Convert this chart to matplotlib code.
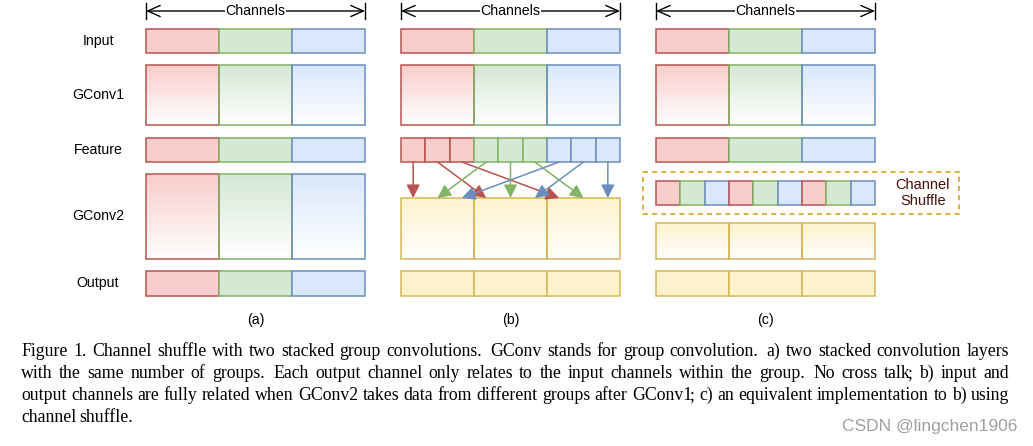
import numpy as np
import matplotlib
matplotlib.use('Agg')
import matplotlib.pyplot as plt
import matplotlib.colors as mcolors
from matplotlib.patches import Rectangle, FancyArrowPatch

# %% data
row_names = ['Input', 'GConv1', 'Feature', 'GConv2', 'Output']
panel_labels = ['(a)', '(b)', '(c)']
group_fill = ['#f8cecc', '#d5e8d4', '#dae8fc']
group_edge = ['#b85450', '#82b366', '#6c8ebf']
yellow_fill, yellow_edge = '#fff2cc', '#d6b656'
n_groups = 3
shuffle_groups = [0, 1, 2, 0, 1, 2, 0, 1, 2]       # colour group of each shuffled channel in (c)
arrow_src = [0, 1, 2, 3, 4, 5, 6, 7, 8]            # feature sub-channel in (b)
arrow_dst = [0, 3, 6, 1, 4, 7, 2, 5, 8]            # GConv2 sub-channel in (b)
caption = [
    "Figure 1. Channel shuffle with two stacked group convolutions. GConv stands for group convolution. a) two stacked convolution layers",
    "with the same number of groups. Each output channel only relates to the input channels within the group. No cross talk; b) input and",
    "output channels are fully related when GConv2 takes data from different groups after GConv1; c) an equivalent implementation to b) using",
    "channel shuffle.",
]
watermark = 'CSDN @lingchen1906'

# %% layout (pixel coordinates)
W, H = 1033, 446
panel_x = [146, 401, 656]
panel_w = 219
rows_y = {'Input': (29, 53), 'GConv1': (65, 125), 'Feature': (138, 162),
          'GConv2': (174, 259), 'Output': (271, 296)}
label_x = 98

fig = plt.figure(figsize=(W / 100, H / 100), dpi=100)
ax = fig.add_axes([0, 0, 1, 1])
ax.axis('off')
sans = 'Liberation Sans'
serif = 'Liberation Serif'


def box(x0, y0, w, h, fill, edge, gradient=False, z=2):
    if gradient:
        c = np.array(mcolors.to_rgb(fill))
        t = np.linspace(0, 1, 64)[:, None]
        img = (c[None, :] * (1 - t) + np.ones(3)[None, :] * t)[:, None, :]
        ax.imshow(img, extent=(x0, x0 + w, y0 + h, y0), origin='upper',
                  aspect='auto', interpolation='bilinear', zorder=z)
        ax.add_patch(Rectangle((x0, y0), w, h, fc='none', ec=edge, lw=1.1, zorder=z + 0.5))
    else:
        ax.add_patch(Rectangle((x0, y0), w, h, fc=fill, ec=edge, lw=1.1, zorder=z))


def group_row(x0, row, colors_fill, colors_edge, gradient=False):
    y0, y1 = rows_y[row] if isinstance(row, str) else row
    n = len(colors_fill)
    gw = panel_w / n
    for i in range(n):
        box(x0 + i * gw, y0, gw, y1 - y0, colors_fill[i], colors_edge[i], gradient)


for p, x0 in enumerate(panel_x):
    # channels arrow
    ax.annotate('', xy=(x0, 11), xytext=(x0 + panel_w, 11),
                arrowprops=dict(arrowstyle='<->,head_length=0.9,head_width=0.4',
                                lw=1.0, color='black', shrinkA=0, shrinkB=0))
    for xe in (x0, x0 + panel_w):
        ax.plot([xe, xe], [3, 19], color='black', lw=1.0)
    ax.text(x0 + panel_w / 2, 11, 'Channels', ha='center', va='center', fontsize=10.2,
            family=sans, bbox=dict(fc='white', ec='none', pad=0.5), zorder=5)

    group_row(x0, 'Input', group_fill, group_edge)
    group_row(x0, 'GConv1', group_fill, group_edge, gradient=True)
    ax.text(x0 + panel_w / 2, 320, panel_labels[p], ha='center', va='center',
            fontsize=10.2, family=sans)

    if p == 0:
        group_row(x0, 'Feature', group_fill, group_edge)
        group_row(x0, 'GConv2', group_fill, group_edge, gradient=True)
        group_row(x0, 'Output', group_fill, group_edge)
    elif p == 1:
        sub = [g for g in range(n_groups) for _ in range(3)]
        group_row(x0, 'Feature', [group_fill[g] for g in sub], [group_edge[g] for g in sub])
        group_row(x0, (198, 259), [yellow_fill] * 3, [yellow_edge] * 3, gradient=True)
        group_row(x0, 'Output', [yellow_fill] * 3, [yellow_edge] * 3)
        cw = panel_w / 9
        for s, d in zip(arrow_src, arrow_dst):
            xs = x0 + (s + 0.5) * cw
            xd = x0 + (d + 0.5) * cw
            arr = FancyArrowPatch((xs, 162), (xd, 198),
                                  arrowstyle='-|>,head_length=0.8,head_width=0.4',
                                  mutation_scale=10, color=group_edge[s // 3], lw=1.1,
                                  shrinkA=0, shrinkB=0, zorder=4)
            ax.add_patch(arr)
    else:
        group_row(x0, 'Feature', group_fill, group_edge)
        group_row(x0, (181, 205), [group_fill[g] for g in shuffle_groups],
                  [group_edge[g] for g in shuffle_groups])
        group_row(x0, (223, 259), [yellow_fill] * 3, [yellow_edge] * 3, gradient=True)
        group_row(x0, 'Output', [yellow_fill] * 3, [yellow_edge] * 3)
        ax.add_patch(Rectangle((643, 172), 316, 42, fc='none', ec='#dca21f', lw=1.2,
                               ls=(0, (3, 2.5)), zorder=3))
        ax.text(923, 193, 'Channel\nShuffle', ha='center', va='center', fontsize=10.5,
                family=sans, color='#4a0c0c', linespacing=1.2)

# row labels
for r in row_names:
    y0, y1 = rows_y[r]
    ax.text(label_x, (y0 + y1) / 2, r, ha='center', va='center', fontsize=10.2, family=sans)

# justified caption
ax.set_xlim(0, W)
ax.set_ylim(H, 0)
fig.canvas.draw()
renderer = fig.canvas.get_renderer()
cap_size = 12.8


def measure(s):
    t = ax.text(0, 0, s, fontsize=cap_size, family=serif)
    w = t.get_window_extent(renderer).width
    t.remove()
    return w


def put_word(x, y, wd):
    # a word ending in ';' is drawn in two pieces, else Agg drops it below the baseline
    if wd.endswith(';'):
        ax.text(x, y, wd[:-1], fontsize=cap_size, family=serif, ha='left', va='baseline')
        ax.text(x + measure(wd[:-1]) - 3, y, ';', fontsize=cap_size, family=serif,
                ha='left', va='baseline')
    else:
        ax.text(x, y, wd, fontsize=cap_size, family=serif, ha='left', va='baseline')


left, right = 21, 1009
baselines = [356, 378, 400, 422]
for li, line in enumerate(caption):
    words = line.split(' ')
    widths = [measure(wd[:-1]) + 2.5 if wd.endswith(';') else measure(wd) for wd in words]
    if li < len(caption) - 1:
        weights = [1.4 if (w.endswith('.') and w != '1.') else 1.0 for w in words[:-1]]
        gap = (right - left - sum(widths)) / sum(weights)
    else:
        weights = [1.0] * (len(words) - 1)
        gap = 3.3
    x = left
    for i, wd in enumerate(words):
        put_word(x, baselines[li], wd)
        if i < len(words) - 1:
            x += widths[i] + gap * weights[i]

ax.text(1017, 426, watermark, ha='right', va='center', fontsize=12.5, family=sans,
        color='#a0a0a0')

fig.savefig('out.png', dpi=100)
